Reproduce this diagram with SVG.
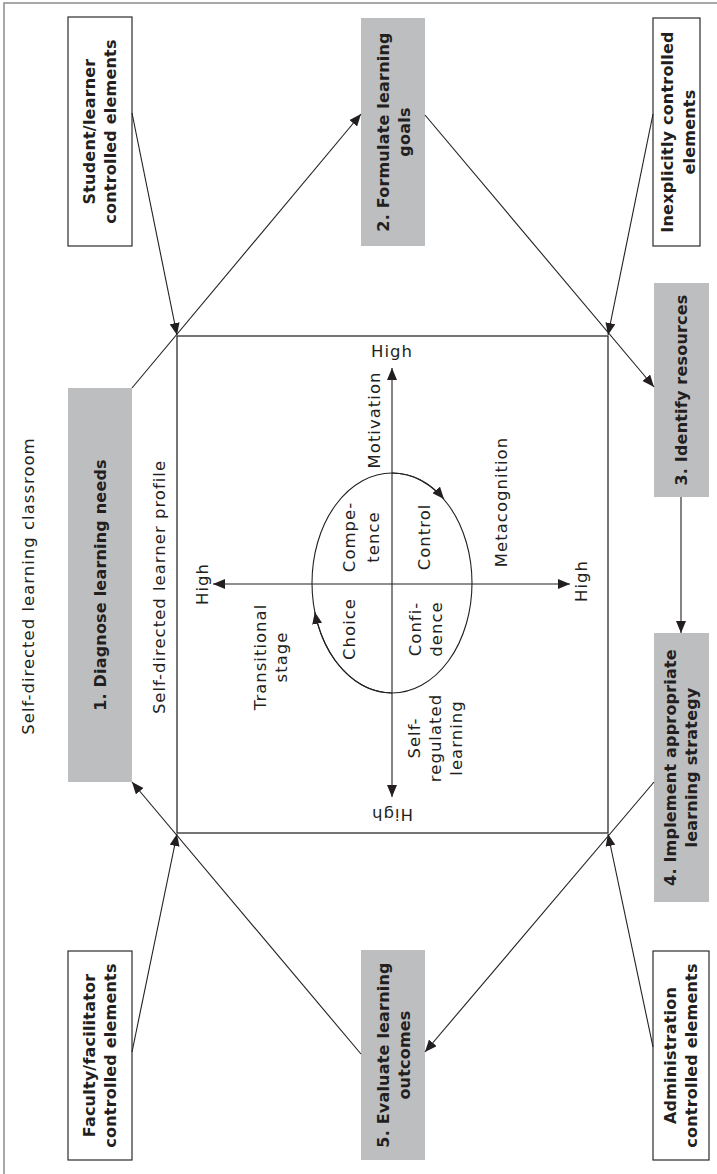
<svg xmlns="http://www.w3.org/2000/svg" width="717" height="1174" viewBox="0 0 717 1174">
  <style>
    .frame { fill: none; stroke: #8c8c8c; stroke-width: 1.5; }
    .box { fill: #ffffff; stroke: #2b2b2b; stroke-width: 1.2; }
    .step { fill: #bdbec0; stroke: none; }
    .lbl { font-family: "DejaVu Sans", "Liberation Sans", sans-serif; font-weight: 700; font-size: 16px; letter-spacing: 0.2px; fill: #231f20; text-anchor: middle; }
    .txt { font-family: "DejaVu Sans", "Liberation Sans", sans-serif; font-weight: 400; font-size: 16.5px; letter-spacing: 1px; fill: #231f20; text-anchor: middle; }
    .ln { fill: none; stroke: #231f20; stroke-width: 1.1; }
    .sq { fill: none; stroke: #2b2b2b; stroke-width: 1.3; }
  </style>
  <defs>
    <marker id="arr" viewBox="0 0 12 10" refX="12" refY="5" markerWidth="12" markerHeight="10" markerUnits="userSpaceOnUse" orient="auto">
      <path d="M0,0 L12,5 L0,10 Z" fill="#231f20"/>
    </marker>
    <marker id="arrs" viewBox="0 0 12 10" refX="0" refY="5" markerWidth="12" markerHeight="10" markerUnits="userSpaceOnUse" orient="auto">
      <path d="M12,0 L0,5 L12,10 Z" fill="#231f20"/>
    </marker>
  </defs>

  <!-- classroom frame -->
  <path class="frame" d="M4,1174 V3 H717"/>
  <g transform="translate(34,586) rotate(-90)">
    <text class="txt" x="0" y="0">Self-directed learning classroom</text>
  </g>

  <!-- learner profile square -->
  <g id="profile">
    <rect class="sq" x="177" y="336" width="431" height="497"/>
    <g transform="translate(165,587) rotate(-90)">
      <text class="txt" x="0" y="0">Self-directed learner profile</text>
    </g>
  </g>

  <!-- axes and cycle inside the profile -->
  <g id="axes">
    <line class="ln" x1="213" y1="584" x2="570" y2="584" marker-start="url(#arrs)" marker-end="url(#arr)"/>
    <line class="ln" x1="392" y1="368" x2="392" y2="797" marker-start="url(#arrs)" marker-end="url(#arr)"/>
    <ellipse class="ln" cx="392" cy="583" rx="80" ry="110"/>
    <path class="ln" d="M392,473 A80,110 0 0 1 444,499" marker-end="url(#arr)"/>
    <path class="ln" d="M392,693 A80,110 0 0 1 314.8,612" marker-end="url(#arr)"/>

    <text class="txt" x="392" y="357">High</text>
    <g transform="translate(208,584) rotate(-90)"><text class="txt" x="0" y="0">High</text></g>
    <g transform="translate(587,581) rotate(-90)"><text class="txt" x="0" y="0">High</text></g>
    <g transform="translate(392,809) rotate(180)"><text class="txt" x="0" y="0">High</text></g>

    <g transform="translate(380,420) rotate(-90)"><text class="txt" x="0" y="0">Motivation</text></g>
    <g transform="translate(507,502) rotate(-90)"><text class="txt" x="0" y="0">Metacognition</text></g>
    <g transform="translate(0,537) rotate(-90)">
      <text class="txt" x="0" y="355">Compe-</text>
      <text class="txt" x="0" y="379">tence</text>
      <text class="txt" x="0" y="430">Control</text>
    </g>
    <g transform="translate(0,629) rotate(-90)">
      <text class="txt" x="0" y="355">Choice</text>
      <text class="txt" x="0" y="421">Confi-</text>
      <text class="txt" x="0" y="442">dence</text>
    </g>
    <g transform="translate(0,657) rotate(-90)">
      <text class="txt" x="0" y="266">Transitional</text>
      <text class="txt" x="0" y="287">stage</text>
    </g>
    <g transform="translate(0,738) rotate(-90)">
      <text class="txt" x="0" y="420">Self-</text>
      <text class="txt" x="0" y="441">regulated</text>
      <text class="txt" x="0" y="462">learning</text>
    </g>
  </g>

  <!-- control-group boxes -->
  <g id="student">
    <rect class="box" x="68" y="17" width="64" height="229"/>
    <g transform="translate(100,131.5) rotate(-90)">
      <text class="lbl" x="0" y="-5">Student/learner</text>
      <text class="lbl" x="0" y="16">controlled elements</text>
    </g>
  </g>
  <g id="inexplicit">
    <rect class="box" x="653" y="18" width="47" height="228"/>
    <g transform="translate(676.5,132) rotate(-90)">
      <text class="lbl" x="0" y="-3.5">Inexplicitly controlled</text>
      <text class="lbl" x="0" y="18.5">elements</text>
    </g>
  </g>
  <g id="faculty">
    <rect class="box" x="68" y="951" width="64" height="209"/>
    <g transform="translate(100,1055.5) rotate(-90)">
      <text class="lbl" x="0" y="-5">Faculty/facilitator</text>
      <text class="lbl" x="0" y="16">controlled elements</text>
    </g>
  </g>
  <g id="administration">
    <rect class="box" x="653" y="951" width="56" height="209"/>
    <g transform="translate(681,1055.5) rotate(-90)">
      <text class="lbl" x="0" y="-5">Administration</text>
      <text class="lbl" x="0" y="16">controlled elements</text>
    </g>
  </g>

  <!-- process steps -->
  <g id="step1">
    <rect class="step" x="68" y="388" width="64" height="394"/>
    <g transform="translate(100,585) rotate(-90)">
      <text class="lbl" x="0" y="5.5">1. Diagnose learning needs</text>
    </g>
  </g>
  <g id="step2">
    <rect class="step" x="361" y="18" width="64" height="228"/>
    <g transform="translate(393,132) rotate(-90)">
      <text class="lbl" x="0" y="-4">2. Formulate learning</text>
      <text class="lbl" x="0" y="17">goals</text>
    </g>
  </g>
  <g id="step3">
    <rect class="step" x="654" y="283" width="55" height="214"/>
    <g transform="translate(681.5,390) rotate(-90)">
      <text class="lbl" x="0" y="5.5">3. Identify resources</text>
    </g>
  </g>
  <g id="step4">
    <rect class="step" x="654" y="633" width="55" height="269"/>
    <g transform="translate(681.5,767.5) rotate(-90)">
      <text class="lbl" x="0" y="-5.5">4. Implement appropriate</text>
      <text class="lbl" x="0" y="15.5">learning strategy</text>
    </g>
  </g>
  <g id="step5">
    <rect class="step" x="361" y="950" width="64" height="210"/>
    <g transform="translate(393,1055) rotate(-90)">
      <text class="lbl" x="0" y="-4">5. Evaluate learning</text>
      <text class="lbl" x="0" y="17">outcomes</text>
    </g>
  </g>

  <!-- connectors -->
  <g id="connectors">
    <line class="ln" x1="132" y1="113" x2="177" y2="335" marker-end="url(#arr)"/>
    <line class="ln" x1="653" y1="114" x2="608" y2="335" marker-end="url(#arr)"/>
    <line class="ln" x1="132" y1="1052" x2="177" y2="834" marker-end="url(#arr)"/>
    <line class="ln" x1="653" y1="1047" x2="608" y2="834" marker-end="url(#arr)"/>
    <line class="ln" x1="132" y1="388" x2="361" y2="114" marker-end="url(#arr)"/>
    <line class="ln" x1="425" y1="115" x2="654" y2="387" marker-end="url(#arr)"/>
    <line class="ln" x1="681" y1="497" x2="681" y2="633" marker-end="url(#arr)"/>
    <line class="ln" x1="654" y1="782" x2="425" y2="1052" marker-end="url(#arr)"/>
    <line class="ln" x1="361" y1="1054" x2="132" y2="782" marker-end="url(#arr)"/>
  </g>
</svg>
